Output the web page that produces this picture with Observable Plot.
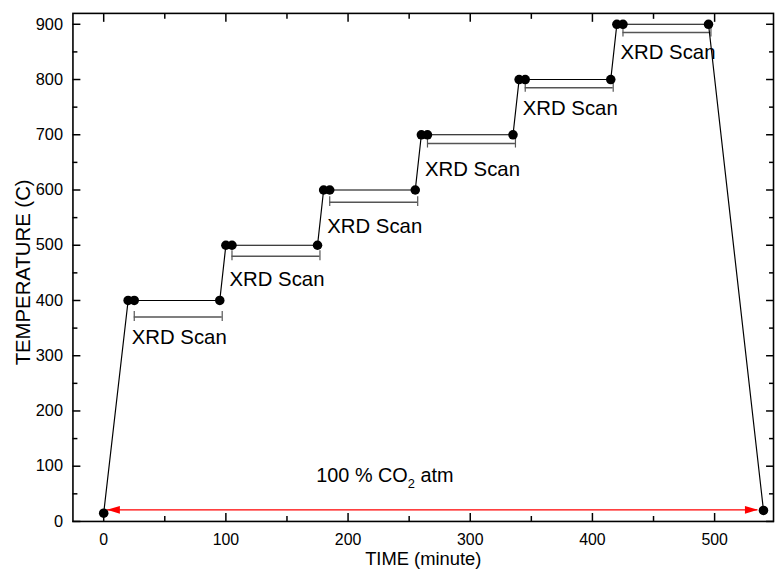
<!DOCTYPE html>
<html><head><meta charset="utf-8">
<script src="https://cdn.jsdelivr.net/npm/d3@7"></script>
<script src="https://cdn.jsdelivr.net/npm/@observablehq/plot@0.6"></script>
<style>
html,body{margin:0;padding:0;overflow:hidden;background:#fff;}
#chart{width:775px;height:576px;overflow:hidden;}
</style></head><body><div id="chart"></div>
<script>
// ---- data ----
const timeMin = [0,20,25,95,100,105,175,180,185,255,260,265,335,340,345,415,420,425,495,540];
const tempC   = [15,400,400,400,500,500,500,600,600,600,700,700,700,800,800,800,900,900,900,20];

const scanTemp    = [400,500,600,700,800,900];
const scanStart   = [25,105,185,265,345,425];
const scanEnd     = [97,177,257,337,417,497];
const bracketTemp = [370,480,578,684,785,885];
const labelTime   = [23,103,183,263,343,423];
const labelTemp   = [322,427,523,625,735,838];
const scanLabel   = "XRD Scan";

const atmTime = [2.7, 535.4];   // arrow tips
const atmTemp = [21];
const atmLabelParts = ["100 % CO", "2", " atm"];
const atmLabel = atmLabelParts.join("");
const atmLabelTime = [174];
const atmLabelTemp = [72];

const xTicks = [0,100,200,300,400,500];
const xMinor = [50,150,250,350,450];
const yTicks = [0,100,200,300,400,500,600,700,800,900];
const yMinor = [50,150,250,350,450,550,650,750,850];
const xTitle = "TIME (minute)";
const yTitle = "TEMPERATURE (C)";

// ---- derived tables ----
const pts = timeMin.map((t, i) => ({t, c: tempC[i]}));
const scans = scanTemp.map((c, i) => ({c, s: scanStart[i], e: scanEnd[i], b: bracketTemp[i], lx: labelTime[i], ly: labelTemp[i]}));
const caps = scans.flatMap(d => [{x: d.s, b: d.b}, {x: d.e, b: d.b}]);

const headLeft  = {draw(ctx){ ctx.moveTo(0,0); ctx.lineTo(13,-4); ctx.lineTo(13,4); ctx.closePath(); }};
const headRight = {draw(ctx){ ctx.moveTo(0,0); ctx.lineTo(-13,-4); ctx.lineTo(-13,4); ctx.closePath(); }};

const blank = () => "";
const plot = Plot.plot({
  width: 781, height: 576,
  marginLeft: 73, marginRight: 2, marginTop: 13, marginBottom: 51,
  style: {fontFamily: "'Liberation Sans', Arial, sans-serif", fontSize: "16px", background: "white", color: "black"},
  x: {domain: [-25.17, 548.2], label: null},
  y: {domain: [0, 919.7], label: null},
  marks: [
    // ticks (inward)
    Plot.axisY(yTicks, {anchor: "left", tickSize: 8, dx: 8, tickFormat: blank, label: null, strokeWidth: 1.5}),
    Plot.axisY(yMinor, {anchor: "left", tickSize: 5, dx: 5, tickFormat: blank, label: null, strokeWidth: 1.5}),
    Plot.axisY(yTicks, {anchor: "right", tickSize: 8, dx: -8, tickFormat: blank, label: null, strokeWidth: 1.5}),
    Plot.axisY(yMinor, {anchor: "right", tickSize: 5, dx: -5, tickFormat: blank, label: null, strokeWidth: 1.5}),
    Plot.axisX(xTicks, {anchor: "bottom", tickSize: 8, dy: -8, tickFormat: blank, label: null, strokeWidth: 1.5}),
    Plot.axisX(xMinor, {anchor: "bottom", tickSize: 5, dy: -5, tickFormat: blank, label: null, strokeWidth: 1.5}),
    Plot.axisX(xTicks, {anchor: "top", tickSize: 8, dy: 8, tickFormat: blank, label: null, strokeWidth: 1.5}),
    Plot.axisX(xMinor, {anchor: "top", tickSize: 5, dy: 5, tickFormat: blank, label: null, strokeWidth: 1.5}),
    // tick labels
    Plot.axisY(yTicks, {anchor: "left", tickSize: 0, tickPadding: 10, label: null, fontSize: 16.5}),
    Plot.axisX(xTicks, {anchor: "bottom", tickSize: 0, tickPadding: 12, label: null, fontSize: 16}),
    Plot.frame({stroke: "black", strokeWidth: 1.6}),
    // axis titles
    Plot.text([xTitle], {frameAnchor: "bottom", dy: 44, lineAnchor: "bottom", fontSize: 18.5, text: d => d}),
    Plot.text([yTitle], {frameAnchor: "left", rotate: -90, dx: -43, dy: 5, textAnchor: "middle", lineAnchor: "bottom", fontSize: 20.5, text: d => d}),
    // CO2 arrow
    Plot.ruleY(atmTemp, {y: d => d, x1: atmTime[0], x2: atmTime[1], stroke: "red", strokeWidth: 1.2}),
    Plot.dot(atmTemp, {x: () => atmTime[0], y: d => d, symbol: headLeft, fill: "red", stroke: "none"}),
    Plot.dot(atmTemp, {x: () => atmTime[1], y: d => d, symbol: headRight, fill: "red", stroke: "none"}),
    Plot.text(atmLabelTime, {x: d => d, y: (d, i) => atmLabelTemp[i], text: () => atmLabel, textAnchor: "start", lineAnchor: "bottom", fontSize: 20}),
    // XRD scan brackets
    Plot.ruleY(scans, {y: "b", x1: "s", x2: "e", stroke: "#555", strokeWidth: 1.5}),
    Plot.ruleX(caps, {x: "x", y1: d => d.b - 8, y2: d => d.b + 10, stroke: "#555", strokeWidth: 1.2}),
    Plot.text(scans, {x: "lx", y: "ly", text: () => scanLabel, textAnchor: "start", lineAnchor: "bottom", fontSize: 20.5}),
    // temperature profile
    Plot.line(pts, {x: "t", y: "c", stroke: "black", strokeWidth: 1.2}),
    Plot.dot(pts, {x: "t", y: "c", r: 4.8, fill: "black", stroke: "none"})
  ]
});
document.getElementById("chart").appendChild(plot);

// subscript 2 in CO2 label
d3.select(plot).selectAll("text").filter(function(){ return this.textContent === atmLabel; }).each(function(){
  const t = d3.select(this);
  t.text(null);
  t.append("tspan").text(atmLabelParts[0]);
  t.append("tspan").attr("font-size", 13).attr("dy", 6).text(atmLabelParts[1]);
  t.append("tspan").attr("dy", -6).text(atmLabelParts[2]);
});
</script></body></html>
